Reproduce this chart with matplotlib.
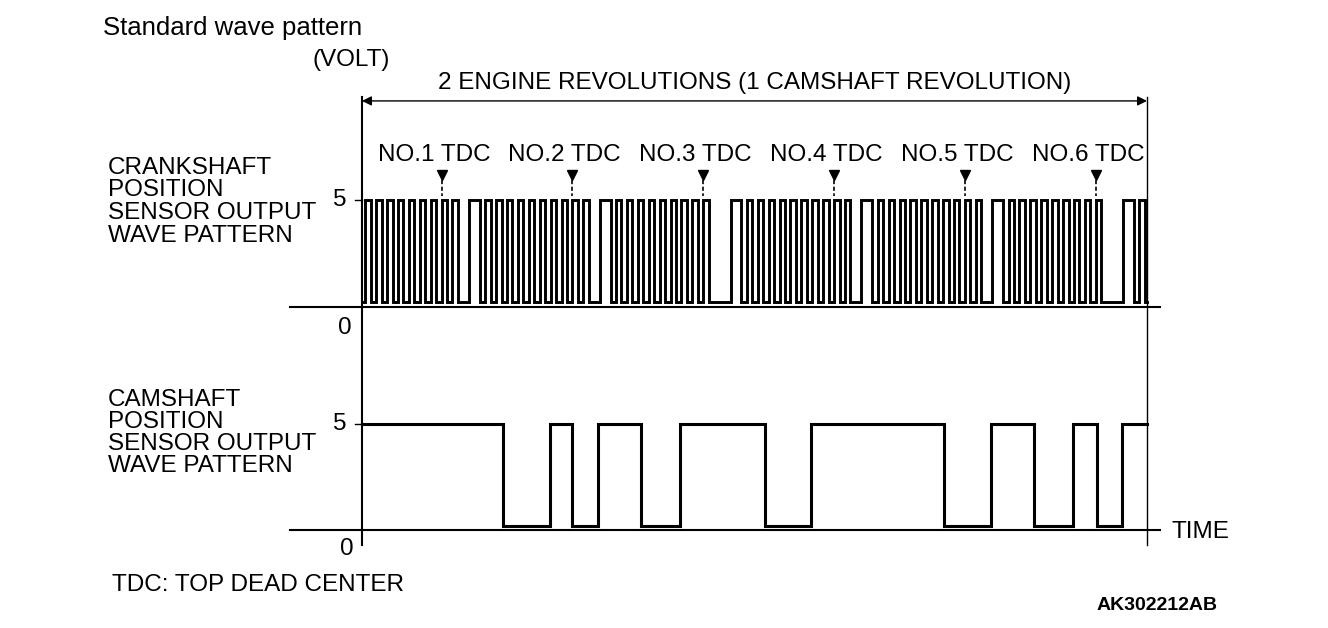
import matplotlib
matplotlib.use('Agg')
import matplotlib.pyplot as plt

plt.rcParams['font.family'] = ['Liberation Sans', 'DejaVu Sans']

######################################################
# Values (crank angle in degrees, 0-720 = 2 engine revs)
tdc_labels = ['NO.1 TDC', 'NO.2 TDC', 'NO.3 TDC', 'NO.4 TDC', 'NO.5 TDC', 'NO.6 TDC']
tdc_angles = [73, 193, 313, 433, 553, 673]

# crank teeth after each TDC (high intervals, degrees after TDC)
# 'A' = short gap, 'B' = long gap; first entry is the tail before NO.1 TDC
teeth_a = [(0, 5), (10, 15), (25, 35), (40, 45), (50, 55), (60, 65), (70, 75),
           (80, 85), (90, 95), (100, 105), (110, 115)]
teeth_b = [(0, 5), (25, 35), (40, 45), (50, 55), (60, 65), (70, 75),
           (80, 85), (90, 95), (100, 105), (110, 115)]
crank_refs = [-47, 73, 193, 313, 433, 553, 673]
crank_types = ['A', 'A', 'A', 'B', 'A', 'A', 'B']

# camshaft signal: edges (degrees), starting high
cam_edges = [0, 129, 172, 193, 216, 256, 292, 370, 412, 534, 577, 616, 652, 674, 697, 720]
cam_start_high = True

volt_high = 5
crank_low = 0.23
cam_low = 0.19

######################################################
# Build step traces
crank_high = []
for ref, kind in zip(crank_refs, crank_types):
    teeth = teeth_a if kind == 'A' else teeth_b
    for a, b in teeth:
        lo, hi = max(ref + a, 0), min(ref + b, 720)
        if hi > lo:
            crank_high.append((lo, hi))

cx, cy = [0], [crank_low]
for lo, hi in crank_high:
    cx += [lo, lo, hi, hi]
    cy += [crank_low, volt_high, volt_high, crank_low]
if cx[-1] < 720:
    cx.append(720)
    cy.append(crank_low)

mx, my = [], []
level = cam_start_high
for i in range(len(cam_edges) - 1):
    v = volt_high if level else cam_low
    mx += [cam_edges[i], cam_edges[i + 1]]
    my += [v, v]
    level = not level

######################################################
W, H = 1328, 628
fig = plt.figure(figsize=(W / 100, H / 100), dpi=100)

# overlay in pixel coordinates for labels and frame lines
ov = fig.add_axes([0, 0, 1, 1])
ov.set_xlim(0, W)
ov.set_ylim(H, 0)
ov.axis('off')


def px_axes(x0, x1, y0, y5):
    return fig.add_axes([x0 / W, (H - y0) / H, (x1 - x0) / W, (y0 - y5) / H])


ax_crank = px_axes(362, 1147, 307, 200)
ax_cam = px_axes(362, 1147, 530, 424)
for ax in (ax_crank, ax_cam):
    ax.set_xlim(0, 720)
    ax.set_ylim(0, 5)
    ax.axis('off')
    ax.patch.set_alpha(0)

ax_crank.plot(cx, cy, color='black', lw=2.1, solid_joinstyle='miter', clip_on=False)
ax_cam.plot(mx, my, color='black', lw=2.2, solid_joinstyle='miter', clip_on=False)

# baselines and vertical frame lines
for ax in (ax_crank, ax_cam):
    ax.plot([-66, 732], [0, 0], color='black', lw=1.5, clip_on=False)
    ax.plot([-6, 0], [5, 5], color='black', lw=1.0, clip_on=False)
ov.plot([362, 362], [97, 545], color='black', lw=1.5)
ov.plot([1147, 1147], [97, 545], color='black', lw=1.0)

# double arrow
ax_crank.annotate('', xy=(0, 9.63), xytext=(720, 9.63),
                  arrowprops=dict(arrowstyle='<|-|>', color='black', lw=1.0,
                                  shrinkA=0, shrinkB=0, mutation_scale=14),
                  annotation_clip=False)
ax_crank.text(360, 10.45, '2 ENGINE REVOLUTIONS (1 CAMSHAFT REVOLUTION)',
              ha='center', va='center', fontsize=17.5)

# TDC markers
for lab, t in zip(tdc_labels, tdc_angles):
    ax_crank.text(t - 7, 7.1, lab, ha='center', va='center', fontsize=17.5)
    ax_crank.plot([t], [6.15], marker='v', color='black', markersize=7, clip_on=False)
    ax_crank.plot([t, t], [5.95, 5.2], color='black', lw=1.2, ls=(0, (2.5, 1.5)), clip_on=False)

fs = 17.5
ov.text(103, 28, 'Standard wave pattern', ha='left', va='center', fontsize=18.5)
ov.text(312, 60, '(VOLT)', ha='left', va='center', fontsize=fs)
for i, s in enumerate(['CRANKSHAFT', 'POSITION', 'SENSOR OUTPUT', 'WAVE PATTERN']):
    ov.text(108, 168 + i * 22.5, s, ha='left', va='center', fontsize=fs)
    ov.text(108, 400 + i * 22, s.replace('CRANK', 'CAM'), ha='left', va='center', fontsize=fs)
ov.text(340, 200, '5', ha='center', va='center', fontsize=fs)
ov.text(345, 328, '0', ha='center', va='center', fontsize=fs)
ov.text(340, 424, '5', ha='center', va='center', fontsize=fs)
ov.text(347, 549, '0', ha='center', va='center', fontsize=fs)
ov.text(1172, 532, 'TIME', ha='left', va='center', fontsize=fs)
ov.text(112, 585, 'TDC: TOP DEAD CENTER', ha='left', va='center', fontsize=fs)
ov.text(1218, 606, 'AK302212AB', ha='right', va='center', fontsize=14, fontweight='bold')

fig.savefig('out.png', dpi=100)
